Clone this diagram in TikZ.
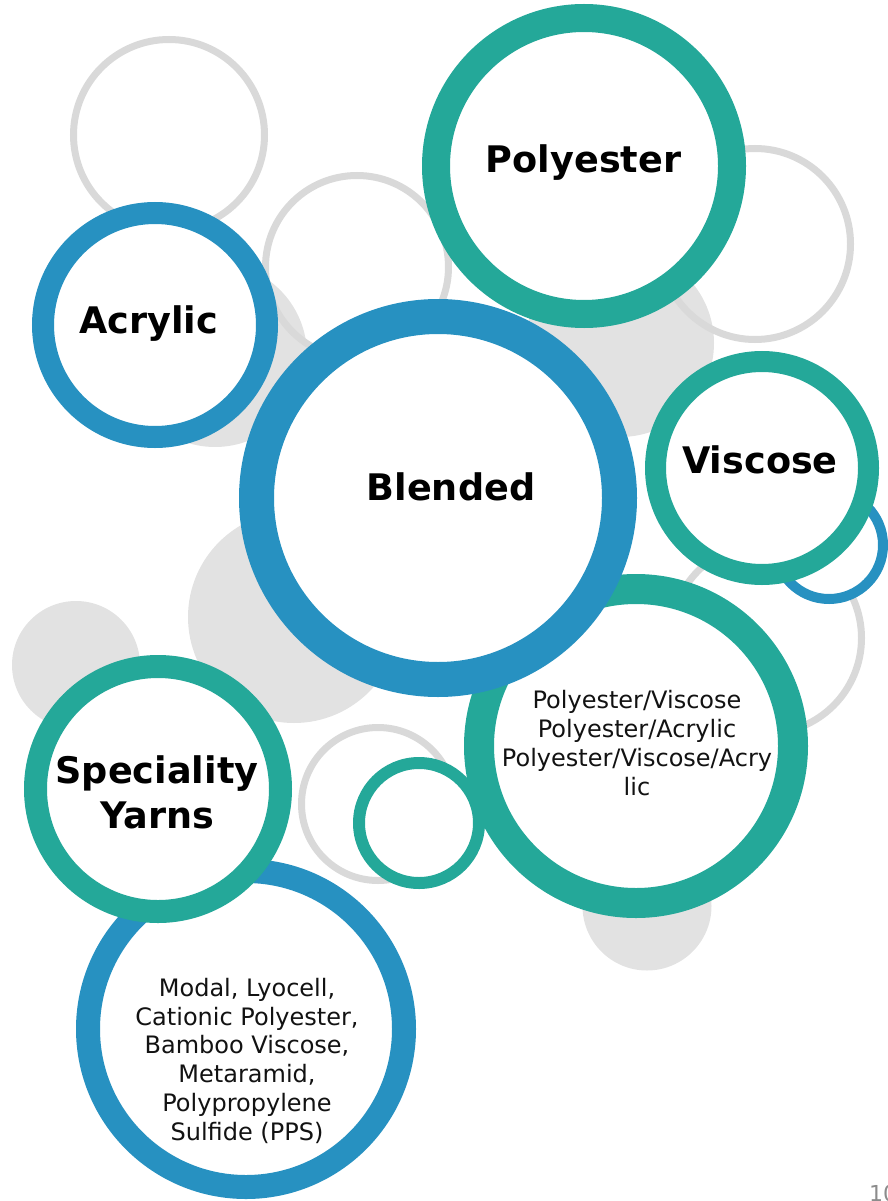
\documentclass[tikz,border=0pt]{standalone}
\usepackage{fontspec}
\setmainfont{DejaVu Sans}
\usepackage{xcolor}
\definecolor{ringblue}{HTML}{2791C1}
\definecolor{ringteal}{HTML}{24A899}
\definecolor{ringgray}{HTML}{D9D9D9}
\definecolor{blobgray}{HTML}{E2E2E2}
\definecolor{pagegray}{HTML}{8C8C8C}
\usepackage{tikz}

\begin{document}
\begin{tikzpicture}[x=1pt, y=-1pt,
    blob/.style={circle, fill=blobgray, inner sep=0pt},
    thinring/.style={circle, draw=ringgray, line width=7pt, inner sep=0pt},
    ring/.style={circle, fill=white, inner sep=0pt},
    head/.style={font=\fontsize{36.6}{45}\selectfont\bfseries, align=center, inner sep=0pt},
    body/.style={font=\fontsize{24}{28.7}\selectfont, align=center, inner sep=0pt, text=black!93}]
                        \useasboundingbox (0,0) rectangle (888,1201);

                        \node (blobA) at (215,355) [blob, minimum size=184pt] {};
                        \node (blobB) at (620,343) [blob, minimum size=188pt] {};
                        \node (blobC) at (647,906) [blob, minimum size=129pt] {};
                        \node (blobD) at (76,665) [blob, minimum size=128pt] {};
                        \node (blobE) at (294,617) [blob, minimum size=212pt] {};

                        \node (haloA) at (169,135) [thinring, minimum size=191pt] {};
                        \node (haloB) at (357,267) [thinring, minimum size=183pt] {};
                        \node (haloC) at (755,244) [thinring, minimum size=191pt] {};
                        \node (haloD) at (766,638) [thinring, minimum size=191pt] {};
                        \node (haloE) at (378,804) [thinring, minimum size=153pt] {};

                        \node (acrylic) at (155,325) [ring, draw=ringblue, line width=22pt, minimum size=224pt] {};
                        \node (mixes) at (636,746) [ring, draw=ringteal, line width=30pt, minimum size=314pt] {};
                        \node (blended) at (438,498) [ring, draw=ringblue, line width=35pt, minimum size=363pt] {};
                        \node (polyester) at (584,166) [ring, draw=ringteal, line width=28pt, minimum size=296pt] {};
                        \node (dot) at (829,545) [ring, draw=ringblue, line width=10pt, minimum size=108pt] {};
                        \node (viscose) at (762,468) [ring, draw=ringteal, line width=21pt, minimum size=213pt] {};
                        \node (bead) at (419,823) [ring, draw=ringteal, line width=12pt, minimum size=120pt] {};
                        \node (fibres) at (246,1029) [ring, draw=ringblue, line width=24pt, minimum size=316pt] {};
                        \node (special) at (158,789) [ring, draw=ringteal, line width=23pt, minimum size=245pt] {};

                        \node (polyesterText) at (583.5,172) [head, anchor=base] {Polyester};
                        \node (acrylicText) at (148.5,333) [head, anchor=base] {Acrylic};
                        \node (blendedText) at (451,500) [head, anchor=base] {Blended};
                        \node (viscoseText) at (760,473) [head, anchor=base] {Viscose};
                        \node (specialText) at (157,828) [head, anchor=base] {Speciality\\Yarns};
                        \node (mixesText) at (637,795) [body, anchor=base] {Polyester/Viscose\\Polyester/Acrylic\\Polyester/Viscose/Acry\\lic};
                        \node (fibresText) at (247,1140) [body, anchor=base] {Modal, Lyocell,\\Cationic Polyester,\\Bamboo Viscose,\\Metaramid,\\Polypropylene\\Sulfide (PPS)};

                        \node (pageNo) at (869,1201) [anchor=base west, inner sep=0pt, text=pagegray, font=\fontsize{22}{26}\selectfont] {10};
                    \end{tikzpicture}
\end{document}
